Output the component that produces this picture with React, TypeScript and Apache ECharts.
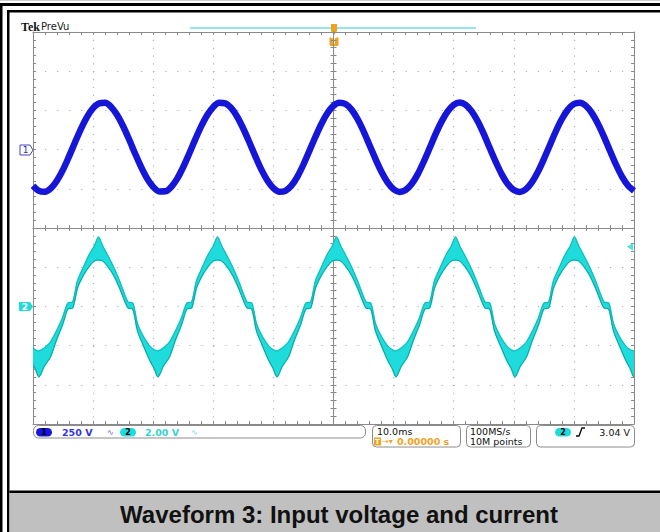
import React, { useEffect, useRef } from "react";
import * as echarts from "echarts";

// ---- scope settings ----
const timeMin = -50; // ms
const timeMax = 50;
const timePerDiv = 10; // 10.0 ms/div
const divMin = -5;
const divMax = 5;
const ch1VoltsPerDiv = 250;
const ch1RefDiv = 2;
const ch2VoltsPerDiv = 2;
const ch2RefDiv = -2;
const triggerLevelVolts = 3.04;

// ---- channel 1 : input voltage (V), sampled every 1 ms ----
const ch1Time = [
  -50, -49, -48, -47, -46, -45, -44, -43, -42, -41,
  -40, -39, -38, -37, -36, -35, -34, -33, -32, -31,
  -30, -29, -28, -27, -26, -25, -24, -23, -22, -21,
  -20, -19, -18, -17, -16, -15, -14, -13, -12, -11,
  -10, -9, -8, -7, -6, -5, -4, -3, -2, -1,
  0, 1, 2, 3, 4, 5, 6, 7, 8, 9,
  10, 11, 12, 13, 14, 15, 16, 17, 18, 19,
  20, 21, 22, 23, 24, 25, 26, 27, 28, 29,
  30, 31, 32, 33, 34, 35, 36, 37, 38, 39,
  40, 41, 42, 43, 44, 45, 46, 47, 48, 49, 50,
];
const ch1Volts = [
  -230, -263, -269, -246, -197, -128, -43, 47, 134, 209,
  264, 295, 298, 272, 221, 149, 64, -26, -112, -185,
  -238, -267, -266, -238, -185, -111, -25, 65, 150, 221,
  272, 298, 295, 264, 208, 133, 47, -43, -128, -197,
  -246, -269, -263, -230, -172, -95, -7, 82, 165, 233,
  280, 299, 291, 255, 195, 117, 28, -61, -143, -209,
  -253, -270, -258, -220, -158, -78, 10, 100, 180, 244,
  286, 300, 286, 244, 181, 100, 10, -78, -158, -220,
  -258, -270, -253, -209, -143, -61, 28, 117, 195, 255,
  291, 299, 279, 233, 165, 83, -7, -95, -172, -229, -263,
];

// ---- channel 2 : input current probe (V), envelope of the noisy trace ----
const ch2Time = [
  -50.4, -49.6,
  -49.0, -48.1, -47.1, -46.1, -45.1, -44.2, -43.4, -42.6, -41.6, -40.6, -39.8, -39.1, -38.4, -37.6, -36.6, -35.6, -34.2, -33.4, -32.6, -31.6, -30.6, -29.8,
  -29.2, -28.3, -27.3, -26.3, -25.3, -24.4, -23.6, -22.8, -21.8, -20.8, -20.0, -19.3, -18.6, -17.8, -16.8, -15.8, -14.4, -13.6, -12.8, -11.8, -10.8, -10.0,
  -9.4, -8.5, -7.5, -6.5, -5.5, -4.6, -3.8, -3.0, -2.0, -1.0, -0.2, 0.5, 1.2, 2.0, 3.0, 4.0, 5.4, 6.2, 7.0, 8.0, 9.0, 9.8,
  10.4, 11.3, 12.3, 13.3, 14.3, 15.2, 16.0, 16.8, 17.8, 18.8, 19.6, 20.3, 21.0, 21.8, 22.8, 23.8, 25.2, 26.0, 26.8, 27.8, 28.8, 29.6,
  30.2, 31.1, 32.1, 33.1, 34.1, 35.0, 35.8, 36.6, 37.6, 38.6, 39.4, 40.1, 40.8, 41.6, 42.6, 43.6, 45.0, 45.8, 46.6, 47.6, 48.6, 49.4,
  50.0, 50.9,
];
const ch2UpperVolts = [
  -2.02, -2.22,
  -2.28, -2.12, -1.82, -1.26, -0.59, 0.17, 0.22, 1.3, 2.01, 2.67, 3.08, 3.54, 3.08, 2.62, 2.01, 1.3, 0.22, 0.17, -0.9, -1.56, -2.02, -2.22,
  -2.28, -2.12, -1.82, -1.26, -0.59, 0.17, 0.22, 1.3, 2.01, 2.67, 3.08, 3.54, 3.08, 2.62, 2.01, 1.3, 0.22, 0.17, -0.9, -1.56, -2.02, -2.22,
  -2.28, -2.12, -1.82, -1.26, -0.59, 0.17, 0.22, 1.3, 2.01, 2.67, 3.08, 3.54, 3.08, 2.62, 2.01, 1.3, 0.22, 0.17, -0.9, -1.56, -2.02, -2.22,
  -2.28, -2.12, -1.82, -1.26, -0.59, 0.17, 0.22, 1.3, 2.01, 2.67, 3.08, 3.54, 3.08, 2.62, 2.01, 1.3, 0.22, 0.17, -0.9, -1.56, -2.02, -2.22,
  -2.28, -2.12, -1.82, -1.26, -0.59, 0.17, 0.22, 1.3, 2.01, 2.67, 3.08, 3.54, 3.08, 2.62, 2.01, 1.3, 0.22, 0.17, -0.9, -1.56, -2.02, -2.22,
  -2.28, -2.12,
];
const ch2LowerVolts = [
  -2.73, -3.19,
  -3.6, -3.04, -2.58, -1.71, -0.95, -0.13, -0.08, 0.94, 1.6, 2.06, 2.32, 2.37, 2.32, 2.06, 1.6, 0.94, -0.08, -0.13, -1.26, -2.02, -2.73, -3.19,
  -3.6, -3.04, -2.58, -1.71, -0.95, -0.13, -0.08, 0.94, 1.6, 2.06, 2.32, 2.37, 2.32, 2.06, 1.6, 0.94, -0.08, -0.13, -1.26, -2.02, -2.73, -3.19,
  -3.6, -3.04, -2.58, -1.71, -0.95, -0.13, -0.08, 0.94, 1.6, 2.06, 2.32, 2.37, 2.32, 2.06, 1.6, 0.94, -0.08, -0.13, -1.26, -2.02, -2.73, -3.19,
  -3.6, -3.04, -2.58, -1.71, -0.95, -0.13, -0.08, 0.94, 1.6, 2.06, 2.32, 2.37, 2.32, 2.06, 1.6, 0.94, -0.08, -0.13, -1.26, -2.02, -2.73, -3.19,
  -3.6, -3.04, -2.58, -1.71, -0.95, -0.13, -0.08, 0.94, 1.6, 2.06, 2.32, 2.37, 2.32, 2.06, 1.6, 0.94, -0.08, -0.13, -1.26, -2.02, -2.73, -3.19,
  -3.6, -3.04,
];

// ---- readout texts ----
const ch1Scale = "250 V";
const ch2Scale = "2.00 V";
const timeScale = "10.0ms";
const triggerPos = "0.00000 s";
const sampleRate = "100MS/s";
const recordLength = "10M points";
const triggerLevelText = "3.04 V";
const caption = "Waveform 3: Input voltage and current";

const GRAY = "#8a8a8a";
const DOT = "#b0b0b0";
const BLUE = "#1616d8";
const CYAN = "#1fdcdc";
const ORANGE = "#f0a21e";
const UI_FONT = '"DejaVu Sans", sans-serif';

function axisBase(extra: any) {
  return {
    type: "value",
    axisLabel: { show: false },
    axisLine: { show: true, onZero: false, lineStyle: { color: GRAY, width: 1 } },
    axisTick: { show: true, inside: true, length: 3, lineStyle: { color: GRAY } },
    minorTick: { show: true, splitNumber: 5, length: 3, lineStyle: { color: GRAY } },
    splitLine: { show: false },
    ...extra,
  };
}

export default function App() {
  const ref = useRef<HTMLDivElement>(null);

  useEffect(() => {
    document.body.style.margin = "0";
    const chart = echarts.init(ref.current!, undefined, { renderer: "svg" });

    const gridW = 601;
    const gridH = 392;
    const xCommon = { min: timeMin, max: timeMax, interval: timePerDiv };
    const yCommon = { min: divMin, max: divMax, interval: 1 };

    const ch1Data = ch1Time.map((t, i) => [t, ch1RefDiv + ch1Volts[i] / ch1VoltsPerDiv]);

    const txt = (text: string, x: number, y: number, fill: string, font: string, align = "left") => ({
      type: "text",
      silent: true,
      style: { text, x, y, fill, font, textAlign: align, textVerticalAlign: "middle" },
    });
    const pill = (x: number, y: number, fill: string, label: string) => [
      { type: "rect", silent: true, shape: { x, y, width: 16, height: 8.5, r: 4.25 }, style: { fill } },
      txt(label, x + 8, y + 4.5, "#000", `bold 8px ${UI_FONT}`, "center"),
    ];
    const box = (x: number, y: number, w: number, h: number, r: number) => ({
      type: "rect",
      silent: true,
      shape: { x, y, width: w, height: h, r },
      style: { fill: "#fff", stroke: "#8c8c8c", lineWidth: 1 },
    });

    const graphic: any[] = [
      // outer frame
      { type: "rect", silent: true, shape: { x: 0, y: 0, width: 660, height: 1 }, style: { fill: "#cfcfcf" } },
      { type: "rect", silent: true, shape: { x: 0, y: 3, width: 660, height: 3 }, style: { fill: "#000" } },
      { type: "rect", silent: true, shape: { x: 7, y: 10, width: 653, height: 2.5 }, style: { fill: "#000" } },
      { type: "rect", silent: true, shape: { x: 0, y: 3, width: 2.5, height: 529 }, style: { fill: "#000" } },
      { type: "rect", silent: true, shape: { x: 7, y: 10, width: 2.5, height: 522 }, style: { fill: "#000" } },
      // caption band
      { type: "rect", silent: true, shape: { x: 9.5, y: 493, width: 651, height: 39 }, style: { fill: "#c0c0c0" } },
      { type: "rect", silent: true, shape: { x: 9.5, y: 490.5, width: 651, height: 2.5 }, style: { fill: "#000" } },
      txt(caption, 339, 514, "#111", 'bold 24px "Liberation Sans", Arial, sans-serif', "center"),
      // header
      txt("Tek", 21, 26.5, "#111", 'bold 12px "Liberation Serif", serif'),
      txt("PreVu", 41, 26.5, "#222", `10px ${UI_FONT}`),
      { type: "line", silent: true, shape: { x1: 190, y1: 28, x2: 476, y2: 28 }, style: { stroke: "#92e6ee", lineWidth: 2 } },
      { type: "polygon", silent: true, shape: { points: [[331, 24], [337, 24], [337, 31], [334, 35], [331, 31]] }, style: { fill: ORANGE } },
      { type: "rect", silent: true, shape: { x: 329.5, y: 37, width: 9, height: 9, r: 1.5 }, style: { fill: ORANGE } },
      txt("T", 334, 41.7, "#fff", `bold 8px ${UI_FONT}`, "center"),
      // channel reference markers
      { type: "polygon", silent: true, shape: { points: [[20, 145], [30, 145], [33, 150], [30, 155], [20, 155]] }, style: { fill: "#fff", stroke: "#4545c4", lineWidth: 1 } },
      txt("1", 25.5, 150.3, "#2f2fc0", `9px ${UI_FONT}`, "center"),
      { type: "polygon", silent: true, shape: { points: [[19, 302], [30, 302], [33, 306.5], [30, 311], [19, 311]] }, style: { fill: CYAN } },
      txt("2", 25, 306.8, "#fff", `bold 9px ${UI_FONT}`, "center"),
      // status bar
      box(33.5, 425.5, 332, 12.5, 5),
      ...pill(36, 428, BLUE, "1"),
      txt(ch1Scale, 62, 432.2, "#3434e0", `bold 9.5px ${UI_FONT}`),
      txt("∿", 107, 432, "#5a5ae0", `8px ${UI_FONT}`),
      ...pill(120, 428, CYAN, "2"),
      txt(ch2Scale, 145, 432.2, "#36d2d2", `bold 9.5px ${UI_FONT}`),
      txt("∿", 191, 432, "#60dede", `8px ${UI_FONT}`),
      box(372.5, 425.5, 88, 21.5, 4),
      txt(timeScale, 377, 431.5, "#111", `9.5px ${UI_FONT}`),
      { type: "rect", silent: true, shape: { x: 374, y: 437.5, width: 7, height: 8 }, style: { fill: ORANGE } },
      txt("T", 377.5, 441.7, "#fff", `bold 7px ${UI_FONT}`, "center"),
      txt("→▾", 382, 441.5, ORANGE, `8px ${UI_FONT}`),
      txt(triggerPos, 397, 441.5, ORANGE, `bold 9.5px ${UI_FONT}`),
      box(466.5, 425.5, 64, 21.5, 4),
      txt(sampleRate, 470, 431.5, "#111", `9.5px ${UI_FONT}`),
      txt(recordLength, 470, 441.5, "#111", `9.5px ${UI_FONT}`),
      box(536.5, 425.5, 98, 21.5, 4),
      ...pill(555, 428, CYAN, "2"),
      { type: "polyline", silent: true, shape: { points: [[576, 436], [579, 436], [582, 428], [585, 428]] }, style: { stroke: "#111", lineWidth: 1.4, fill: "none" } },
      txt(triggerLevelText, 630, 432, "#111", `9.5px ${UI_FONT}`, "right"),
    ];

    const option: any = {
      animation: false,
      backgroundColor: "#fff",
      grid: { left: 33, top: 32, width: gridW, height: gridH, show: false },
      xAxis: [
        axisBase({ ...xCommon, position: "bottom", splitLine: { show: true, lineStyle: { color: DOT, width: 1.2, type: [1.2, 6.64] } } }),
        axisBase({ ...xCommon, position: "top" }),
        axisBase({ ...xCommon, position: "bottom", offset: -gridH / 2 }),
        axisBase({ ...xCommon, position: "bottom", offset: -gridH / 2, axisTick: { show: true, inside: false, length: 3, lineStyle: { color: GRAY } } }),
      ],
      yAxis: [
        axisBase({ ...yCommon, position: "left", splitLine: { show: true, lineStyle: { color: DOT, width: 1.2, type: [1.2, 10.82] } } }),
        axisBase({ ...yCommon, position: "right" }),
        axisBase({ ...yCommon, position: "left", offset: -gridW / 2 }),
        axisBase({ ...yCommon, position: "left", offset: -gridW / 2, axisTick: { show: true, inside: false, length: 3, lineStyle: { color: GRAY } } }),
      ],
      series: [
        {
          type: "custom",
          name: "CH2",
          coordinateSystem: "cartesian2d",
          xAxisIndex: 0,
          yAxisIndex: 0,
          clip: true,
          silent: true,
          z: 3,
          data: [[0, 0]],
          renderItem: (params: any, api: any) => {
            const up = ch2Time.map((t, i) => api.coord([t, ch2RefDiv + ch2UpperVolts[i] / ch2VoltsPerDiv]));
            const lo = ch2Time.map((t, i) => api.coord([t, ch2RefDiv + ch2LowerVolts[i] / ch2VoltsPerDiv]));
            return {
              type: "group",
              children: [
                { type: "polygon", shape: { points: up.concat(lo.slice().reverse()), smooth: 0.25 }, style: { fill: CYAN, stroke: CYAN, lineWidth: 1.5 } },
                { type: "polyline", shape: { points: lo, smooth: 0.25 }, style: { stroke: "#129c9c", lineWidth: 1, fill: "none" } },
                { type: "polyline", shape: { points: up, smooth: 0.25 }, style: { stroke: "#16b4b4", lineWidth: 1, fill: "none" } },
              ],
            };
          },
        },
        {
          type: "line",
          name: "CH1",
          xAxisIndex: 0,
          yAxisIndex: 0,
          data: ch1Data,
          smooth: 0.3,
          symbol: "none",
          silent: true,
          z: 4,
          lineStyle: { color: BLUE, width: 6.5 },
        },
        {
          type: "scatter",
          name: "Trigger level",
          xAxisIndex: 0,
          yAxisIndex: 0,
          data: [[timeMax, ch2RefDiv + triggerLevelVolts / ch2VoltsPerDiv]],
          symbol: "triangle",
          symbolRotate: 90,
          symbolSize: [8, 6],
          symbolOffset: [-4, 0],
          clip: false,
          silent: true,
          z: 5,
          itemStyle: { color: CYAN },
        },
      ],
      graphic,
    };

    chart.setOption(option);
    return () => chart.dispose();
  }, []);

  return <div ref={ref} style={{ width: 660, height: 532 }} />;
}
